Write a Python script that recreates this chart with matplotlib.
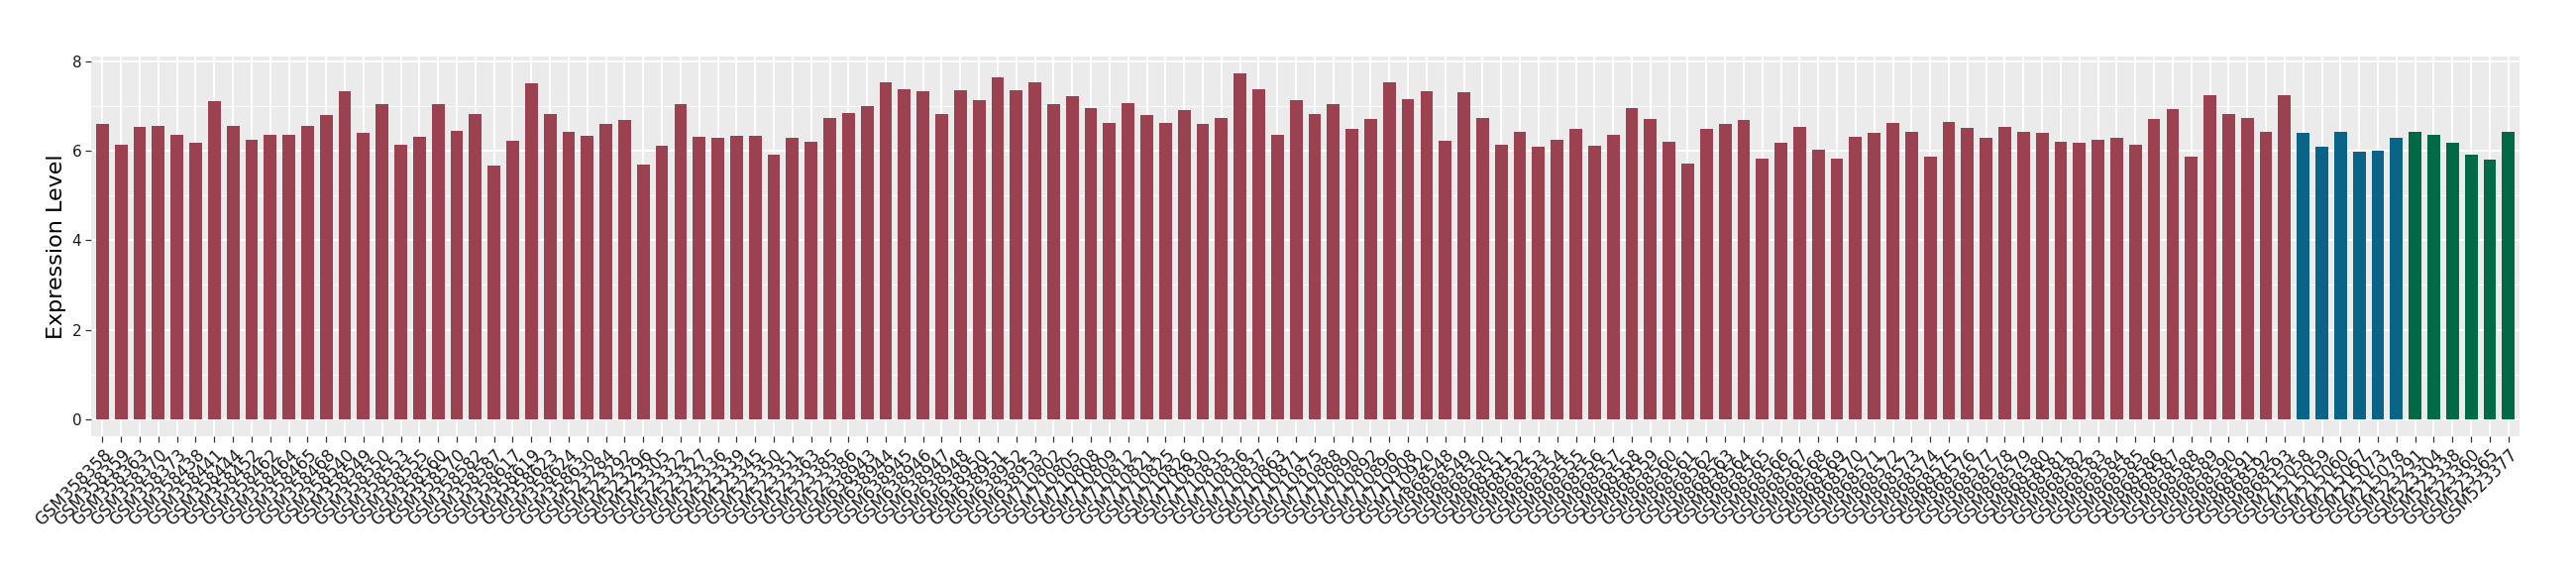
import numpy as np
import matplotlib.pyplot as plt

# sample ids and expression values
samples_a = ['GSM358358', 'GSM358359', 'GSM358363', 'GSM358370', 'GSM358373', 'GSM358438',
             'GSM358441', 'GSM358444', 'GSM358452', 'GSM358462', 'GSM358464', 'GSM358465',
             'GSM358468', 'GSM358540', 'GSM358549', 'GSM358550', 'GSM358553', 'GSM358555',
             'GSM358560', 'GSM358570', 'GSM358582', 'GSM358587', 'GSM358617', 'GSM358619',
             'GSM358623', 'GSM358624', 'GSM358630', 'GSM523284', 'GSM523292', 'GSM523296',
             'GSM523305', 'GSM523322', 'GSM523327', 'GSM523336', 'GSM523339', 'GSM523345',
             'GSM523350', 'GSM523351', 'GSM523363', 'GSM523385', 'GSM523386', 'GSM638943',
             'GSM638944', 'GSM638945', 'GSM638946', 'GSM638947', 'GSM638948', 'GSM638950',
             'GSM638951', 'GSM638952', 'GSM638953', 'GSM710802', 'GSM710805', 'GSM710808',
             'GSM710809', 'GSM710812', 'GSM710821', 'GSM710825', 'GSM710826', 'GSM710830',
             'GSM710835', 'GSM710836', 'GSM710837', 'GSM710863', 'GSM710871', 'GSM710875',
             'GSM710888', 'GSM710890', 'GSM710892', 'GSM710896', 'GSM710908', 'GSM710920',
             'GSM868548', 'GSM868549', 'GSM868550', 'GSM868551', 'GSM868552', 'GSM868553',
             'GSM868554', 'GSM868555', 'GSM868556', 'GSM868557', 'GSM868558', 'GSM868559',
             'GSM868560', 'GSM868561', 'GSM868562', 'GSM868563', 'GSM868564', 'GSM868565',
             'GSM868566', 'GSM868567', 'GSM868568', 'GSM868569', 'GSM868570', 'GSM868571',
             'GSM868572', 'GSM868573', 'GSM868574', 'GSM868575', 'GSM868576', 'GSM868577',
             'GSM868578', 'GSM868579', 'GSM868580', 'GSM868581', 'GSM868582', 'GSM868583',
             'GSM868584', 'GSM868585', 'GSM868586', 'GSM868587', 'GSM868588', 'GSM868589',
             'GSM868590', 'GSM868591', 'GSM868592', 'GSM868593']
values_a = [6.60, 6.13, 6.53, 6.57, 6.37, 6.18, 7.11, 6.57, 6.26, 6.37, 6.37, 6.57,
            6.80, 7.35, 6.40, 7.06, 6.13, 6.31, 7.06, 6.46, 6.84, 5.67, 6.24, 7.51,
            6.84, 6.44, 6.33, 6.60, 6.69, 5.69, 6.11, 7.04, 6.31, 6.29, 6.35, 6.35,
            5.91, 6.29, 6.20, 6.75, 6.86, 7.00, 7.53, 7.39, 7.33, 6.84, 7.37, 7.15,
            7.64, 7.37, 7.55, 7.06, 7.22, 6.97, 6.62, 7.08, 6.80, 6.62, 6.91, 6.60,
            6.73, 7.73, 7.39, 6.37, 7.13, 6.82, 7.04, 6.49, 6.71, 7.55, 7.17, 7.35,
            6.22, 7.31, 6.73, 6.15, 6.44, 6.09, 6.26, 6.49, 6.11, 6.37, 6.97, 6.71,
            6.20, 5.73, 6.49, 6.60, 6.69, 5.82, 6.18, 6.53, 6.04, 5.84, 6.31, 6.40,
            6.64, 6.44, 5.87, 6.66, 6.51, 6.29, 6.55, 6.44, 6.40, 6.20, 6.18, 6.26,
            6.29, 6.15, 6.71, 6.93, 5.87, 7.24, 6.82, 6.75, 6.42, 7.26]

samples_b = ['GSM215058', 'GSM215059', 'GSM215060', 'GSM215067', 'GSM215073', 'GSM215078']
values_b = [6.40, 6.09, 6.44, 5.98, 6.00, 6.29]

samples_c = ['GSM523291', 'GSM523304', 'GSM523338', 'GSM523360', 'GSM523365', 'GSM523377']
values_c = [6.44, 6.37, 6.18, 5.91, 5.80, 6.44]

col_a = '#9B4150'
col_b = '#0A6487'
col_c = '#006946'

labels = samples_a + samples_b + samples_c
values = values_a + values_b + values_c
colors = [col_a] * len(samples_a) + [col_b] * len(samples_b) + [col_c] * len(samples_c)
x = np.arange(len(labels))

fig = plt.figure(figsize=(26, 5.8), dpi=100)
ax = fig.add_axes([0.0354, 0.2414, 0.9427, 0.6603])
ax.set_facecolor('#EBEBEB')

ax.bar(x, values, width=0.68, color=colors, zorder=3)

vmax = max(values)
ax.set_ylim(-0.05 * vmax, 1.05 * vmax)
ax.set_xlim(-0.6, len(labels) - 0.4)

ax.set_yticks([0, 2, 4, 6, 8])
ax.set_yticks([1, 3, 5, 7], minor=True)
ax.set_xticks(x)
ax.set_xticklabels(labels, rotation=45, ha='right', va='top', rotation_mode='anchor', fontsize=12, color='#1a1a1a')
ax.tick_params(axis='y', labelsize=11, labelcolor='#1a1a1a')
ax.tick_params(axis='both', which='major', length=4, width=0.9, color='#333333', pad=3)
ax.tick_params(axis='y', which='minor', length=0)

ax.grid(which='major', color='white', linewidth=1.3, zorder=0)
ax.grid(which='minor', axis='y', color='white', linewidth=0.6, zorder=0)
ax.set_axisbelow(True)

for s in ax.spines.values():
    s.set_visible(False)

ax.set_ylabel('Expression Level', fontsize=16, color='black', labelpad=4)

fig.savefig('out.png', dpi=100, facecolor='white')
